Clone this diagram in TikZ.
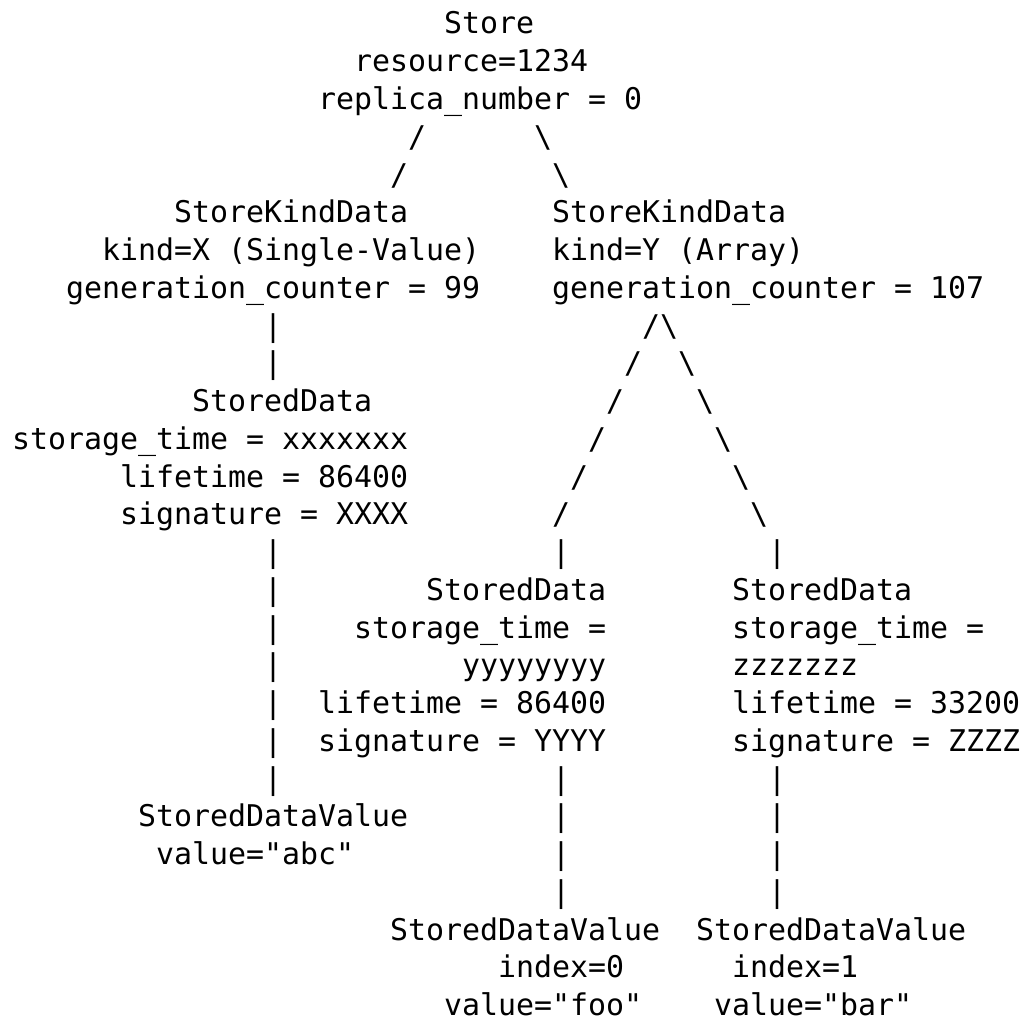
\documentclass[tikz,border=0pt]{standalone}
\usepackage{fontspec}
\setmonofont{DejaVu Sans Mono}
\usepackage{tikz}
\usetikzlibrary{positioning}
\tikzstyle{txt} = [anchor=base west, inner sep=0pt, font=\ttfamily\fontsize{29.9pt}{37.75pt}\selectfont]
\tikzstyle{glyph} = [txt]

\begin{document}
\begin{tikzpicture}[x=18pt, y=-37.75pt]
\useasboundingbox (-12pt,34pt) rectangle (1018pt,-988pt);

\node [txt] (a) at (24,0) {Store};
\node [txt] (a1) at (19,1) {resource=1234};
\node [txt] (a2) at (17,2) {replica\_number = 0};

\node [txt] (b) at (9,5) {StoreKindData};
\node [txt] (b1) at (5,6) {kind=X (Single-Value)};
\node [txt] (b2) at (3,7) {generation\_counter = 99};

\node [txt] (c) at (30,5) {StoreKindData};
\node [txt] (c1) at (30,6) {kind=Y (Array)};
\node [txt] (c2) at (30,7) {generation\_counter = 107};

\node [txt] (d) at (10,10) {StoredData};
\node [txt] (d1) at (0,11) {storage\_time = xxxxxxx};
\node [txt] (d2) at (6,12) {lifetime = 86400};
\node [txt] (d3) at (6,13) {signature = XXXX};

\node [txt] (e) at (23,15) {StoredData};
\node [txt] (e1) at (19,16) {storage\_time =};
\node [txt] (e2) at (25,17) {yyyyyyyy};
\node [txt] (e3) at (17,18) {lifetime = 86400};
\node [txt] (e4) at (17,19) {signature = YYYY};

\node [txt] (f) at (40,15) {StoredData};
\node [txt] (f1) at (40,16) {storage\_time =};
\node [txt] (f2) at (40,17) {zzzzzzz};
\node [txt] (f3) at (40,18) {lifetime = 33200};
\node [txt] (f4) at (40,19) {signature = ZZZZ};

\node [txt] (g) at (7,21) {StoredDataValue};
\node [txt] (g1) at (8,22) {value="abc"};

\node [txt] (h) at (21,24) {StoredDataValue};
\node [txt] (h1) at (27,25) {index=0};
\node [txt] (h2) at (24,26) {value="foo"};

\node [txt] (k) at (38,24) {StoredDataValue};
\node [txt] (k1) at (40,25) {index=1};
\node [txt] (k2) at (39,26) {value="bar"};

% links as text
\node [glyph] (ab) at (22,3) {/};
\node [glyph] (ab1) at (21,4) {/};
\node [glyph] (ac) at (29,3) {\textbackslash};
\node [glyph] (ac1) at (30,4) {\textbackslash};

\foreach \y in {8,9,14,15,...,20}
  \node [glyph] (bd\y) at (14,\y) {|};

\foreach \i in {0,...,5} {
  \node [glyph] (ce\i) at (35-\i,8+\i) {/};
  \node [glyph] (cf\i) at (36+\i,8+\i) {\textbackslash};
}

\foreach \y in {14,20,21,22,23} {
  \node [glyph] (eh\y) at (30,\y) {|};
  \node [glyph] (fk\y) at (42,\y) {|};
}
\end{tikzpicture}
\end{document}
